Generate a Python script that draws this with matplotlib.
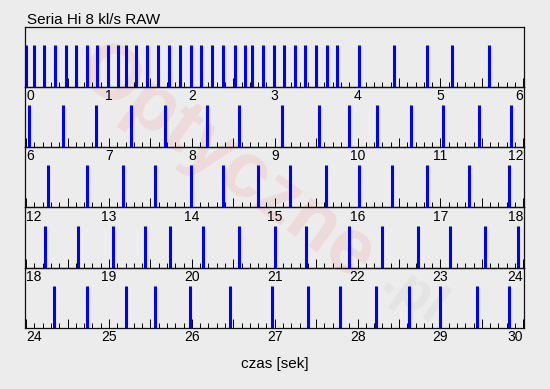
import numpy as np
import matplotlib
matplotlib.use('Agg')
import matplotlib.pyplot as plt
from matplotlib.ticker import MultipleLocator

plt.rcParams['font.family'] = ['Liberation Sans', 'DejaVu Sans']

# czasy zdjec [s]
shot_times = [
    0.00, 0.09, 0.22, 0.35, 0.48, 0.60, 0.73, 0.86, 0.99, 1.11, 1.21, 1.33,
    1.46, 1.59, 1.72, 1.86, 1.99, 2.11, 2.24, 2.37, 2.52, 2.64, 2.73, 2.86,
    2.99, 3.11, 3.24, 3.37, 3.50, 3.63, 3.75, 4.02, 4.44, 4.84, 5.14, 5.58,
    6.04, 6.45, 6.84, 7.27, 7.67, 8.18, 8.57, 9.09, 9.53, 9.90, 10.23, 10.64,
    11.03, 11.47, 11.85,
    12.26, 12.73, 13.17, 13.56, 13.99, 14.37, 14.80, 15.19, 15.62, 16.02,
    16.41, 16.84, 17.35, 17.83,
    18.23, 18.62, 19.05, 19.44, 19.74, 20.13, 20.57, 21.00, 21.38, 21.90,
    22.30, 22.73, 23.11, 23.54, 23.94,
    24.34, 24.73, 25.21, 25.55, 25.98, 26.46, 26.97, 27.40, 27.79, 28.22,
    28.62, 29.00, 29.44, 29.83,
]
row_starts = [0, 6, 12, 18, 24]
row_len = 6
title = 'Seria Hi 8 kl/s RAW'
xlabel = 'czas [sek]'

bg = '#ececec'
shots = np.array(shot_times)

fig = plt.figure(figsize=(5.5, 3.89), dpi=100, facecolor=bg)

# znak wodny
fig.text(0.41, 0.58, 'Optyczne', rotation=-36, fontsize=56, fontweight='bold',
         color='red', alpha=0.08, ha='center', va='center', zorder=-1)
fig.text(0.75, 0.24, '.pl', rotation=-36, fontsize=40, fontweight='bold',
         color='gray', alpha=0.07, ha='center', va='center', zorder=-1)

left, width = 0.046, 0.907
top, bottom = 0.931, 0.157
h = (top - bottom) / len(row_starts)

for i, t0 in enumerate(row_starts):
    ax = fig.add_axes([left, top - (i + 1) * h, width, h])
    ax.set_facecolor('none')
    sel = shots[(shots >= t0) & (shots < t0 + row_len)]
    ax.vlines(sel, 0, 0.7, color='#0000ff', lw=2.2)
    ax.set_xlim(t0 - 0.01, t0 + row_len + 0.01)
    ax.set_ylim(0, 1)
    ticks = np.arange(t0, t0 + row_len + 0.01, 0.5)
    labels = [str(int(t)) if t == int(t) else '' for t in ticks]
    ax.set_xticks(ticks, labels=labels)
    ax.xaxis.set_minor_locator(MultipleLocator(0.1))
    ax.set_yticks([])
    ax.tick_params(axis='x', which='major', direction='in', length=6.5,
                   width=0.7, pad=1.5, labelsize=10, top=False)
    ax.tick_params(axis='x', which='minor', direction='in', length=3.6,
                   width=0.7, top=False)
    tl = ax.get_xticklabels()
    tl[0].set_ha('left')
    tl[-1].set_ha('right')
    for s in ax.spines.values():
        s.set_linewidth(0.9)
        s.set_color('#111111')

fig.text(0.049, 1 - 24 / 389, title, fontsize=11, ha='left', va='baseline')
fig.text(left + width / 2, 1 - 368 / 389, xlabel, fontsize=11,
         ha='center', va='baseline')

fig.savefig('out.png', dpi=100, facecolor=bg)
